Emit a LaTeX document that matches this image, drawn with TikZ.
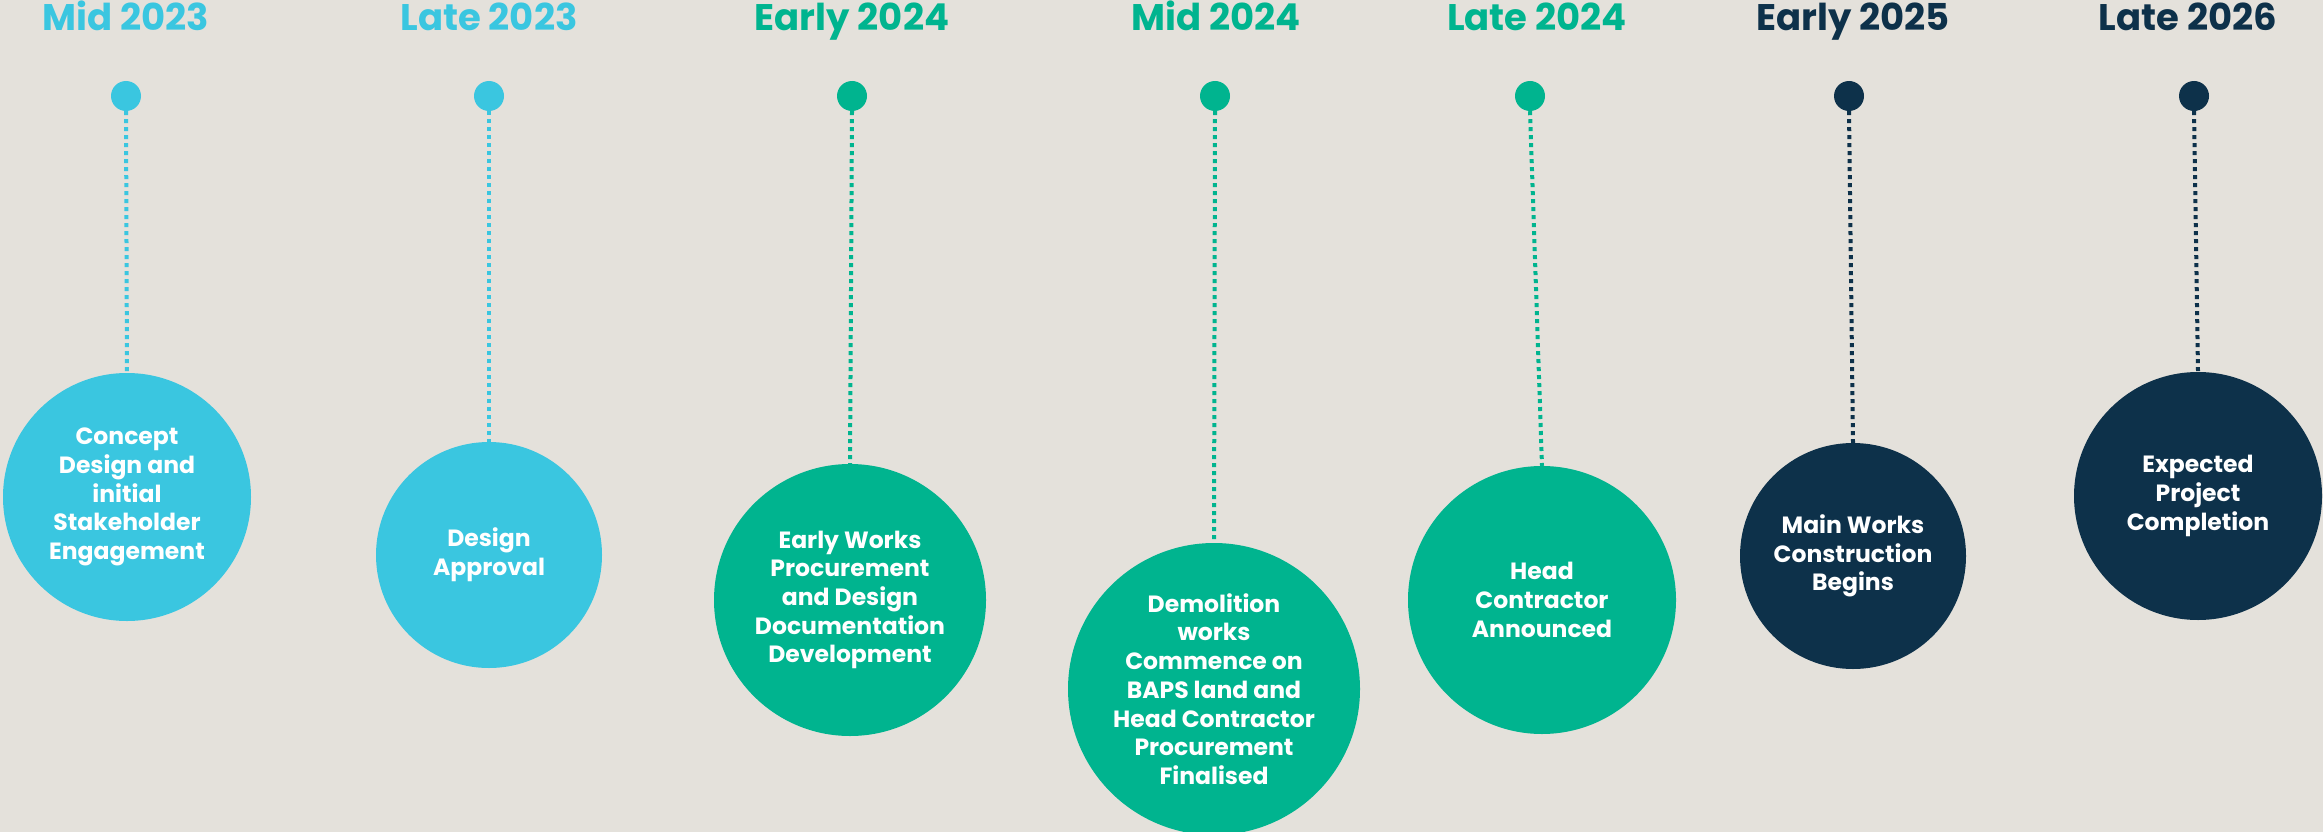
\documentclass[tikz,border=0pt]{standalone}
\usepackage{fontspec}
\setmainfont{Poppins}
\definecolor{bgc}{HTML}{E4E1DB}
\definecolor{skyc}{HTML}{3AC6E0}
\definecolor{greenc}{HTML}{00B48F}
\definecolor{navyc}{HTML}{0D314A}
\begin{document}
\begin{tikzpicture}[x=1pt,y=-1pt,
  yearlabel/.style={anchor=base, inner sep=0pt, font=\fontsize{37}{40}\selectfont\bfseries},
  pin/.style={circle, inner sep=0pt, minimum size=30pt},
  event/.style={circle, inner sep=0pt, text=white, align=center, font=\fontsize{23.5}{28.7}\selectfont\bfseries},
  leader/.style={line width=4pt, dash pattern=on 4pt off 4pt}
]
\fill[bgc] (0,0) rectangle (2323,832);
\useasboundingbox (0,0) rectangle (2323,832);
\clip (0,0) rectangle (2323,832);

% 1
\node[yearlabel, text=skyc] (y1) at (126,31) {Mid 2023};
\node[pin, fill=skyc] (d1) at (126,96) {};
\node[event, fill=skyc, minimum size=248pt] (c1) at (127,497) {Concept\\Design and\\initial\\Stakeholder\\Engagement};
\draw[leader, skyc] (d1.south) -- (c1.north);

% 2
\node[yearlabel, text=skyc] (y2) at (489,31) {Late 2023};
\node[pin, fill=skyc] (d2) at (489,96) {};
\node[event, fill=skyc, minimum size=226pt] (c2) at (489,555) {Design\\Approval};
\draw[leader, skyc] (d2.south) -- (c2.north);

% 3
\node[yearlabel, text=greenc] (y3) at (852,31) {Early 2024};
\node[pin, fill=greenc] (d3) at (852,96) {};
\node[event, fill=greenc, minimum size=272pt] (c3) at (850,600) {Early Works\\Procurement\\and Design\\Documentation\\Development};
\draw[leader, greenc] (d3.south) -- (c3.north);

% 4
\node[yearlabel, text=greenc] (y4) at (1216,31) {Mid 2024};
\node[pin, fill=greenc] (d4) at (1215,96) {};
\node[event, fill=greenc, minimum size=292pt] (c4) at (1214,689) {Demolition\\works\\Commence on\\BAPS land and\\Head Contractor\\Procurement\\Finalised};
\draw[leader, greenc] (d4.south) -- (c4.north);

% 5
\node[yearlabel, text=greenc] (y5) at (1537,31) {Late 2024};
\node[pin, fill=greenc] (d5) at (1530,96) {};
\node[event, fill=greenc, minimum size=268pt] (c5) at (1542,600) {Head\\Contractor\\Announced};
\draw[leader, greenc] (d5.south) -- (c5.north);

% 6
\node[yearlabel, text=navyc] (y6) at (1853,31) {Early 2025};
\node[pin, fill=navyc] (d6) at (1849,96) {};
\node[event, fill=navyc, minimum size=226pt] (c6) at (1853,556) {Main Works\\Construction\\Begins};
\draw[leader, navyc] (d6.south) -- (c6.north);

% 7
\node[yearlabel, text=navyc] (y7) at (2188,31) {Late 2026};
\node[pin, fill=navyc] (d7) at (2194,96) {};
\node[event, fill=navyc, minimum size=248pt] (c7) at (2198,496) {Expected\\Project\\Completion};
\draw[leader, navyc] (d7.south) -- (c7.north);
\end{tikzpicture}
\end{document}
